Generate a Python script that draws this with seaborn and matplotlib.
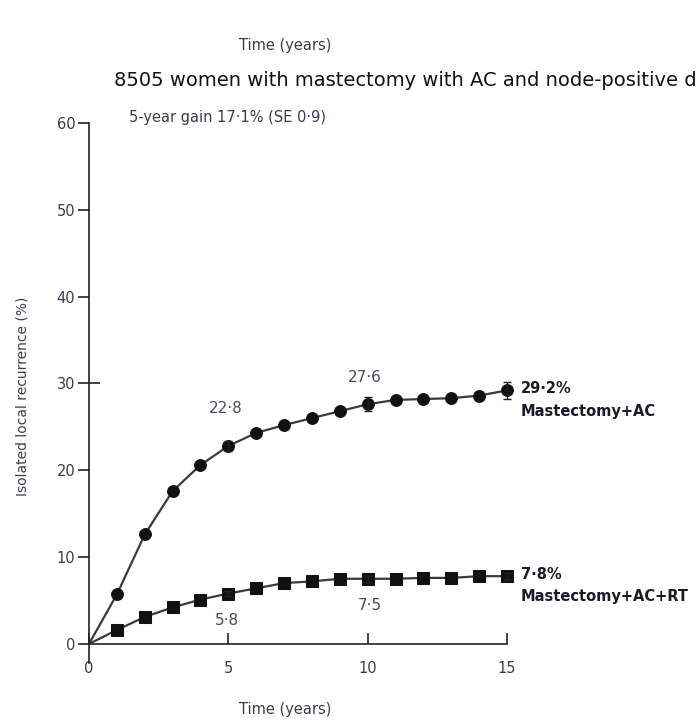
import matplotlib
matplotlib.use("Agg")
import matplotlib.pyplot as plt
from matplotlib.ticker import FixedLocator
import seaborn as sns
import pandas as pd

# Isolated local recurrence (%) by year since randomisation
years = list(range(16))
mast_ac = [0, 5.7, 12.6, 17.6, 20.6, 22.8, 24.3, 25.2, 26.0, 26.8, 27.6, 28.1, 28.2, 28.3, 28.6, 29.2]
mast_ac_rt = [0, 1.6, 3.1, 4.2, 5.1, 5.8, 6.4, 7.0, 7.2, 7.5, 7.5, 7.5, 7.6, 7.6, 7.8, 7.8]

# Standard errors shown at 5, 10 and 15 years
se_years = [5, 10, 15]
se_ac = [0.6, 0.8, 1.0]
se_ac_rt = [0.3, 0.35, 0.4]

ac_values = [22.8, 27.6]
ac_rt_values = [5.8, 7.5]
value_years = [5, 10]

end_labels = ["29·2%\nMastectomy+AC", "7·8%\nMastectomy+AC+RT"]
title = "8505 women with mastectomy with AC and node-positive disease"
gain_text = "5-year gain 17·1% (SE 0·9)"
xticks = [0, 5, 10, 15]
yticks = [0, 10, 20, 30, 40, 50, 60]

sns.set_theme(style="white")
plt.rcParams["font.family"] = ["DejaVu Sans"]

df = pd.DataFrame({
    "year": years * 2,
    "risk": mast_ac + mast_ac_rt,
    "group": ["ac"] * len(years) + ["acrt"] * len(years),
})

fig = plt.figure(figsize=(6.96, 7.2), dpi=100)
ax = fig.add_axes([0.1279, 0.0792, 0.6005, 0.75])

sns.lineplot(data=df, x="year", y="risk", hue="group", style="group",
             markers={"ac": "o", "acrt": "s"}, dashes=False,
             palette={"ac": "#3a3a3a", "acrt": "#3a3a3a"},
             linewidth=1.6, markersize=8.5, markeredgecolor="#111111",
             markerfacecolor="#111111", legend=False, ax=ax,
             markevery=slice(1, None))
for line in ax.lines:
    line.set_clip_on(False)

ax.errorbar(se_years, [mast_ac[y] for y in se_years], yerr=se_ac, fmt="none",
            ecolor="#222222", elinewidth=1.0, capsize=3, clip_on=False)
ax.errorbar(se_years, [mast_ac_rt[y] for y in se_years], yerr=se_ac_rt, fmt="none",
            ecolor="#222222", elinewidth=1.0, capsize=3, clip_on=False)

ax.set_xlim(0, 15)
ax.set_ylim(-2.2, 60)
ax.set_xticks(xticks)
ax.set_yticks(yticks)
# inward mark at 30 so that tick crosses the axis there
ax.yaxis.remove_overlapping_locs = False
ax.yaxis.set_minor_locator(FixedLocator([30]))
ax.spines["top"].set_visible(False)
ax.spines["right"].set_visible(False)
ax.spines["bottom"].set_position(("data", 0))
ax.spines["bottom"].set_bounds(0, 15)
for sp in ("left", "bottom"):
    ax.spines[sp].set_color("#222222")
    ax.spines[sp].set_linewidth(1.2)
ax.tick_params(axis="y", which="major", direction="out", length=8, width=1.2,
               color="#222222", labelsize=10.5, labelcolor="#3b3b55", pad=2, left=True)
ax.tick_params(axis="y", which="minor", direction="in", length=8, width=1.2,
               color="#222222", left=True)
ax.tick_params(axis="x", direction="in", length=8, width=1.2, color="#222222",
               labelsize=10.5, labelcolor="#3b3b55", pad=12, bottom=True)
ax.set_xlabel("")
ax.set_ylabel("")

# Values stated on the curves
for x, v, dy in zip(value_years, ac_values, [4.3, 3.1]):
    ax.text(x - 0.1, v + dy, f"{v:.1f}".replace(".", "·"), ha="center", va="center",
            fontsize=11, color="#4a4a66")
for x, v, dx in zip(value_years, ac_rt_values, [-0.05, 0.07]):
    ax.text(x + dx, v - 3.1, f"{v:.1f}".replace(".", "·"), ha="center", va="center",
            fontsize=11, color="#4a4a66")

# End-of-curve labels
ax.text(15.5, mast_ac[-1] - 1.1, end_labels[0], ha="left", va="center",
        fontsize=10.5, fontweight="bold", color="#1a1a2a", linespacing=1.6)
ax.text(15.5, mast_ac_rt[-1] - 1.1, end_labels[1], ha="left", va="center",
        fontsize=10.5, fontweight="bold", color="#1a1a2a", linespacing=1.6)

ax.text(1.45, 60.6, gain_text, ha="left", va="center", fontsize=10.5, color="#3b3b55")

fig.text(0.032, 0.45, "Isolated local recurrence (%)", rotation=90, ha="center",
         va="center", fontsize=10, color="#3b3b55")
fig.text(0.41, 0.015, "Time (years)", ha="center", va="center", fontsize=10.5,
         color="#3b3b55")
fig.text(0.41, 0.937, "Time (years)", ha="center", va="center", fontsize=10.5,
         color="#3b3b55")
fig.text(0.164, 0.888, title, ha="left", va="center", fontsize=14, color="#111111")

fig.savefig("out.png", dpi=100)
